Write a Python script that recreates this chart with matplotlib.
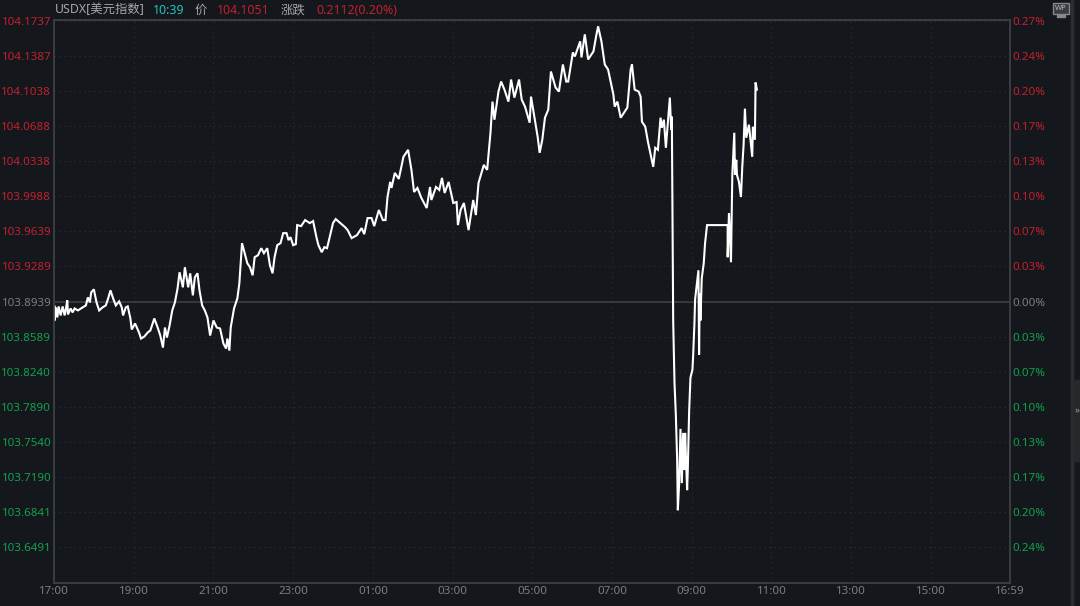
# -*- coding: utf-8 -*-
import matplotlib
matplotlib.use('Agg')
import matplotlib.pyplot as plt
from matplotlib.patches import Rectangle

# minutes since 17:00 and price in four stretches
minutes_evening = [1, 1, 3, 5, 7, 10, 13, 16, 18, 20, 21, 25, 28, 31, 36, 43, 48, 51, 54, 56,
                   60, 64, 68, 73, 78, 82, 85, 89, 93, 98, 102, 104, 108, 111, 115, 117, 122, 128, 131, 136,
                   141, 145, 151, 156, 160, 164, 167, 170, 174, 178, 182, 186, 189, 194, 197, 202, 205, 209, 212, 216,
                   219, 223, 227, 231, 235, 240, 245, 250, 255, 259, 261, 264, 266, 271, 276, 279]
prices_evening = [103.889, 103.875, 103.888, 103.878, 103.889, 103.880, 103.889, 103.880, 103.887, 103.895,
                  103.881, 103.887, 103.883, 103.887, 103.885, 103.888, 103.890, 103.898, 103.893, 103.903,
                  103.906, 103.893, 103.885, 103.888, 103.890, 103.898, 103.905, 103.897, 103.890, 103.894,
                  103.888, 103.880, 103.888, 103.889, 103.877, 103.866, 103.872, 103.863, 103.857, 103.859,
                  103.863, 103.865, 103.877, 103.868, 103.860, 103.848, 103.868, 103.858, 103.870, 103.885,
                  103.893, 103.907, 103.923, 103.908, 103.928, 103.908, 103.922, 103.900, 103.918, 103.922,
                  103.905, 103.890, 103.885, 103.878, 103.860, 103.875, 103.868, 103.867, 103.852, 103.847,
                  103.857, 103.845, 103.868, 103.887, 103.897, 103.912]

minutes_night = [283, 287, 291, 295, 299, 302, 307, 312, 316, 321, 325, 329, 332, 336, 341, 345, 350, 353, 356, 360,
                 364, 366, 372, 378, 385, 390, 395, 398, 403, 407, 411, 415, 420, 424, 431, 438, 442, 448, 456, 463,
                 467, 472, 478, 482, 489, 495, 499, 502, 506, 508, 513, 519, 526, 533, 538, 542, 547, 553, 561, 566,
                 568, 575, 580, 584, 588, 594, 601, 606, 608, 612]
prices_night = [103.952, 103.942, 103.932, 103.928, 103.920, 103.938, 103.940, 103.947, 103.942, 103.947,
                103.930, 103.922, 103.938, 103.950, 103.952, 103.962, 103.962, 103.955, 103.958, 103.950,
                103.951, 103.970, 103.969, 103.975, 103.972, 103.974, 103.958, 103.950, 103.943, 103.948,
                103.947, 103.958, 103.972, 103.976, 103.972, 103.968, 103.965, 103.957, 103.960, 103.967,
                103.961, 103.977, 103.977, 103.969, 103.985, 103.975, 103.975, 103.998, 104.013, 104.007,
                104.022, 104.016, 104.038, 104.045, 104.025, 104.003, 104.007, 103.997, 103.987, 104.008,
                103.995, 104.008, 104.005, 104.017, 104.002, 104.013, 103.992, 103.993, 103.970, 103.985]

minutes_peak = [617, 624, 631, 635, 639, 647, 652, 657, 660, 663, 669, 673, 678, 684, 688, 693, 700, 704, 709, 716,
                718, 723, 728, 731, 735, 739, 744, 748, 755, 760, 766, 771, 774, 781, 784, 792, 794, 799, 804, 812,
                816, 819, 824, 829, 834, 842, 844, 848, 853, 859, 863, 868, 870, 874, 880, 883, 885, 890, 894, 902,
                905, 909, 913, 915, 918, 921, 924, 927, 929, 930]
prices_peak = [103.992, 103.965, 103.995, 103.980, 104.012, 104.030, 104.025, 104.062, 104.093, 104.075,
               104.103, 104.113, 104.105, 104.093, 104.115, 104.097, 104.115, 104.095, 104.088, 104.072,
               104.098, 104.078, 104.058, 104.042, 104.055, 104.077, 104.085, 104.123, 104.107, 104.103,
               104.130, 104.113, 104.113, 104.142, 104.138, 104.153, 104.137, 104.160, 104.135, 104.143,
               104.158, 104.168, 104.153, 104.130, 104.125, 104.100, 104.088, 104.093, 104.077, 104.083,
               104.087, 104.125, 104.130, 104.105, 104.103, 104.098, 104.073, 104.068, 104.053, 104.028,
               104.047, 104.045, 104.077, 104.067, 104.075, 104.047, 104.072, 104.097, 104.065, 104.078]

minutes_drop = [932, 934, 936, 938, 939, 941, 943, 945, 947, 949, 950, 953, 954, 956, 958, 961, 962, 964, 965, 970,
                971, 972, 973, 975, 978, 980, 983, 1014, 1014, 1016, 1019, 1021, 1024, 1025, 1027, 1028, 1031, 1034, 1036, 1038,
                1040, 1042, 1046, 1048, 1051, 1052, 1055, 1056, 1058]
prices_drop = [103.875, 103.813, 103.781, 103.736, 103.686, 103.713, 103.767, 103.713, 103.763, 103.726,
               103.763, 103.706, 103.726, 103.784, 103.818, 103.826, 103.839, 103.872, 103.896, 103.925,
               103.841, 103.902, 103.875, 103.917, 103.932, 103.952, 103.970, 103.970, 103.938, 103.982,
               103.933, 104.020, 104.062, 104.020, 104.035, 104.020, 104.013, 103.998, 104.028, 104.050,
               104.086, 104.057, 104.070, 104.057, 104.038, 104.068, 104.055, 104.112, 104.105]

left_labels = ['104.1737', '104.1387', '104.1038', '104.0688', '104.0338', '103.9988', '103.9639',
               '103.9289', '103.8939', '103.8589', '103.8240', '103.7890', '103.7540', '103.7190',
               '103.6841', '103.6491']
right_labels = ['0.27%', '0.24%', '0.20%', '0.17%', '0.13%', '0.10%', '0.07%', '0.03%', '0.00%',
                '0.03%', '0.07%', '0.10%', '0.13%', '0.17%', '0.20%', '0.24%']
time_ticks = [0, 120, 240, 360, 480, 600, 720, 840, 960, 1080, 1200, 1320, 1439]
time_labels = ['17:00', '19:00', '21:00', '23:00', '01:00', '03:00', '05:00', '07:00', '09:00',
               '11:00', '13:00', '15:00', '16:59']
base_price = 103.8939

minutes = minutes_evening + minutes_night + minutes_peak + minutes_drop
prices = prices_evening + prices_night + prices_peak + prices_drop

BG = '#14171c'
RED = '#c4212f'
GREEN = '#13a04c'
GREY = '#7c7e82'
W, H = 1080, 606

plt.rcParams['font.family'] = ['Noto Sans', 'Noto Sans CJK SC']
fig = plt.figure(figsize=(W / 100, H / 100), dpi=100, facecolor=BG)
ax = fig.add_axes([54 / W, 1 - 583 / H, 956 / W, 563 / H], facecolor=BG)

ax.plot(minutes, prices, color='white', lw=1.5, solid_joinstyle='miter', zorder=3)
ax.axhline(base_price, color='#3c3c40', lw=1.3, zorder=2)

ticks = [float(v) for v in left_labels]
ax.set_xlim(0, 1439)
ax.set_ylim(103.6135, 104.1743)
ax.set_yticks(ticks)
ax.set_yticklabels(left_labels, fontsize=8.3)
ax.set_xticks(time_ticks)
ax.set_xticklabels(time_labels, fontsize=8.3, color=GREY)
ax.tick_params(length=0, pad=2)
ax.grid(True, color='#2e3135', lw=0.8, linestyle=(0, (1, 3.5)), zorder=1)

for lab, v in zip(ax.get_yticklabels(), ticks):
    lab.set_color(RED if v > base_price else (GREEN if v < base_price else GREY))

ax2 = ax.twinx()
ax2.set_ylim(ax.get_ylim())
ax2.set_yticks(ticks)
ax2.set_yticklabels(right_labels, fontsize=8.3)
ax2.tick_params(length=0, pad=2)
for lab, v in zip(ax2.get_yticklabels(), ticks):
    lab.set_color(RED if v > base_price else (GREEN if v < base_price else GREY))

for a in (ax, ax2):
    for s in a.spines.values():
        s.set_color('#3b3d41')
        s.set_linewidth(1.2)

# header
header = [('USDX[美元指数]', 55, '#a3a7ab'), ('10:39', 153, '#25c4bb'), ('价', 195, '#a3a7ab'),
          ('104.1051', 217, RED), ('涨跌', 281, '#a3a7ab'), ('0.2112(0.20%)', 316, RED)]
for txt, x, c in header:
    fig.text(x / W, 1 - 10 / H, txt, color=c, fontsize=8.9, ha='left', va='center')

# right side strip and the small WP icon
fig.add_artist(Rectangle((1071 / W, 0), 1.5 / W, 1, transform=fig.transFigure, color='#2b2d31'))
fig.add_artist(Rectangle((1073 / W, 1 - 461 / H), 7 / W, 81 / H, transform=fig.transFigure, color='#26282c'))
fig.text(1077 / W, 1 - 410 / H, '»', color='#9a9ca0', fontsize=7, ha='center', va='center')
fig.add_artist(Rectangle((1053 / W, 1 - 14 / H), 16 / W, 11 / H, transform=fig.transFigure,
                         facecolor='#3a3c40', edgecolor='#85878b', lw=1))
fig.add_artist(Rectangle((1057 / W, 1 - 17 / H), 8 / W, 1.5 / H, transform=fig.transFigure, color='#85878b'))
fig.text(1061 / W, 1 - 8.5 / H, 'WP', color='#b5b7ba', fontsize=5.5, fontweight='bold',
         ha='center', va='center')

plt.savefig('out.png', dpi=100, facecolor=BG)
